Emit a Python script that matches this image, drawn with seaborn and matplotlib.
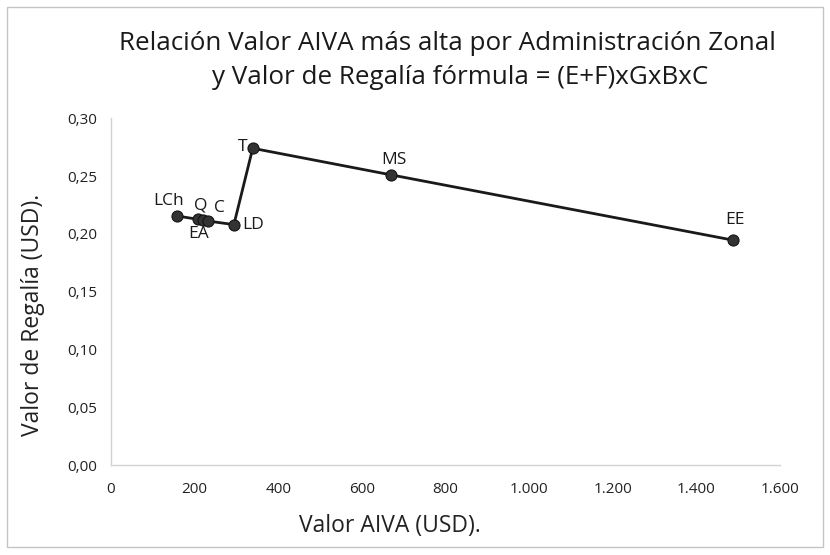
import matplotlib
matplotlib.use("Agg")
import matplotlib.pyplot as plt
import seaborn as sns
import pandas as pd
from matplotlib.ticker import FuncFormatter, MultipleLocator

# Data
zonas = ["LCh", "EA", "Q", "C", "LD", "T", "MS", "EE"]
valor_aiva = [157, 209, 219, 233, 294, 339, 670, 1487]
valor_regalia = [0.2155, 0.2125, 0.2120, 0.2110, 0.2080, 0.2740, 0.2510, 0.1946]

df = pd.DataFrame({"zona": zonas, "aiva": valor_aiva, "regalia": valor_regalia})

sns.set_theme(style="white")
plt.rcParams["font.family"] = ["Open Sans", "DejaVu Sans"]

fig = plt.figure(figsize=(8.3, 5.55), dpi=100)
ax = fig.add_axes([0.1337, 0.162, 0.806, 0.625])

sns.lineplot(data=df, x="aiva", y="regalia", sort=False, ax=ax,
             color="#1a1a1a", linewidth=2.0, marker="o", markersize=8,
             markerfacecolor="#333333", markeredgecolor="#111111")

# label offsets in points (dx, dy, ha, va)
offsets = {
    "LCh": (-6, 5, "center", "bottom"),
    "EA": (0, -5, "center", "top"),
    "Q": (-1, 5, "center", "bottom"),
    "C": (4, 4, "left", "bottom"),
    "LD": (6, 0, "left", "center"),
    "T": (-4, 1, "right", "center"),
    "MS": (2, 5, "center", "bottom"),
    "EE": (2, 9, "center", "bottom"),
}
for z, xv, yv in zip(zonas, valor_aiva, valor_regalia):
    dx, dy, ha, va = offsets[z]
    ax.annotate(z, (xv, yv), xytext=(dx, dy), textcoords="offset points",
                ha=ha, va=va, fontsize=12.5, color="#1a1a1a")

ax.set_xlim(0, 1600)
ax.set_ylim(0, 0.30)
ax.xaxis.set_major_locator(MultipleLocator(200))
ax.yaxis.set_major_locator(MultipleLocator(0.05))
ax.xaxis.set_major_formatter(FuncFormatter(lambda v, p: f"{int(v):,}".replace(",", ".")))
ax.yaxis.set_major_formatter(FuncFormatter(lambda v, p: f"{v:.2f}".replace(".", ",")))
ax.tick_params(axis="x", labelsize=11, colors="#222222", length=0, pad=12)
ax.tick_params(axis="y", labelsize=11, colors="#222222", length=0, pad=10)

for s in ["top", "right"]:
    ax.spines[s].set_visible(False)
for s in ["left", "bottom"]:
    ax.spines[s].set_color("#d2d2d2")
    ax.spines[s].set_linewidth(1.0)

ax.set_xlabel("")
ax.set_ylabel("")
fig.text(390 / 830, 1 - 526 / 555, "Valor AIVA (USD).", ha="center", va="center",
         fontsize=16.5, color="#222222")
fig.text(33 / 830, 1 - 315 / 555, "Valor de Regalía (USD).", ha="center", va="center",
         rotation=90, fontsize=16.5, color="#222222")

fig.text(447 / 830, 1 - 43 / 555, "Relación Valor AIVA más alta por Administración Zonal",
         ha="center", va="center", fontsize=18.7, color="#1a1a1a")
fig.text(460 / 830, 1 - 77 / 555, "y Valor de Regalía fórmula = (E+F)xGxBxC",
         ha="center", va="center", fontsize=18.7, color="#1a1a1a")

# chart area border
border = plt.Rectangle((0.008, 0.015), 0.984, 0.972, transform=fig.transFigure,
                       fill=False, edgecolor="#c4c4c4", linewidth=1.0)
fig.patches.append(border)

fig.savefig("out.png", dpi=100)
